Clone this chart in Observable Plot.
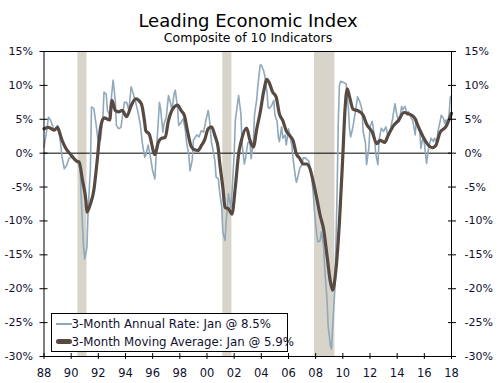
<!DOCTYPE html>
<html><head><meta charset="utf-8">
<script src="https://cdn.jsdelivr.net/npm/d3@7"></script>
<script src="https://cdn.jsdelivr.net/npm/@observablehq/plot@0.6"></script>
<style>
body{margin:0;background:#fff;font-family:"DejaVu Sans",Verdana,sans-serif;}
#wrap{position:relative;width:500px;height:383px;overflow:hidden;background:#fff;}
#title{position:absolute;left:0;top:12px;width:496px;text-align:center;font-size:18px;line-height:18px;color:#000;}
#subtitle{position:absolute;left:0;top:30px;width:496px;text-align:center;font-size:12.5px;line-height:15px;color:#000;}
#chart{position:absolute;left:0;top:45px;}
#legend{position:absolute;left:51px;top:313px;width:235px;height:37px;border:1.5px solid #000;background:#fff;color:#101030;font-size:11.8px;line-height:14px;}
#legend .sw{position:absolute;left:4px;width:16px;}
#legend .tx{position:absolute;left:19.5px;white-space:nowrap;}
</style></head>
<body><div id="wrap">
<div id="title">Leading Economic Index</div>
<div id="subtitle">Composite of 10 Indicators</div>
<div id="chart"></div>
<div id="legend">
  <div class="sw" style="top:8.5px;height:2px;background:#8fa8bb"></div>
  <div class="tx" style="top:2.7px">3-Month Annual Rate: Jan @ 8.5%</div>
  <div class="sw" style="top:25px;height:5px;border-radius:2.5px;background:#574a42"></div>
  <div class="tx" style="top:21px">3-Month Moving Average: Jan @ 5.9%</div>
</div>
</div>
<script>
// 3-Month Annual Rate (thin blue line)
const rateMonths = ["1988-01","1988-03","1988-05","1988-07","1988-10","1989-01","1989-03","1989-05","1989-07","1989-09","1989-11","1990-02","1990-05","1990-07","1990-09","1990-10","1990-12","1991-01","1991-03","1991-04","1991-06","1991-07","1991-09","1991-11","1992-01","1992-03","1992-05","1992-06","1992-08","1992-09","1992-11","1992-12","1993-02","1993-04","1993-05","1993-07","1993-09","1993-12","1994-02","1994-04","1994-06","1994-08","1994-10","1994-12","1995-02","1995-04","1995-06","1995-07","1995-09","1995-11","1996-01","1996-03","1996-04","1996-06","1996-07","1996-08","1996-10","1996-11","1997-01","1997-03","1997-05","1997-06","1997-08","1997-09","1997-11","1997-12","1998-02","1998-04","1998-06","1998-07","1998-09","1998-10","1998-12","1999-01","1999-04","1999-06","1999-08","1999-10","1999-12","2000-02","2000-03","2000-05","2000-08","2000-09","2000-11","2000-12","2001-02","2001-03","2001-05","2001-06","2001-08","2001-10","2001-11","2002-01","2002-02","2002-04","2002-05","2002-07","2002-08","2002-10","2002-11","2003-01","2003-03","2003-04","2003-06","2003-07","2003-09","2003-10","2003-12","2004-01","2004-03","2004-04","2004-06","2004-07","2004-08","2004-10","2004-12","2005-01","2005-03","2005-04","2005-05","2005-07","2005-08","2005-10","2005-11","2006-01","2006-02","2006-04","2006-05","2006-07","2006-08","2006-10","2006-11","2007-01","2007-02","2007-04","2007-07","2007-09","2007-11","2007-12","2008-02","2008-03","2008-05","2008-06","2008-08","2008-09","2008-11","2008-12","2009-02","2009-03","2009-04","2009-06","2009-07","2009-08","2009-09","2009-10","2009-11","2010-02","2010-04","2010-05","2010-06","2010-07","2010-08","2010-10","2010-12","2011-02","2011-04","2011-06","2011-07","2011-09","2011-10","2011-12","2012-01","2012-03","2012-05","2012-06","2012-08","2012-09","2012-11","2013-01","2013-03","2013-05","2013-07","2013-09","2013-11","2014-01","2014-03","2014-05","2014-06","2014-08","2014-10","2014-11","2015-01","2015-03","2015-05","2015-06","2015-09","2015-10","2015-12","2016-01","2016-03","2016-05","2016-07","2016-09","2016-10","2016-12","2017-01","2017-03","2017-04","2017-06","2017-07","2017-08","2017-10","2017-11","2017-12","2018-01"];
const rateValues = [0.9,2.9,5.3,4.8,3.3,4.1,2.4,-0.6,-2.3,-1.8,-0.8,-0.5,-1.0,-1.3,-2.5,-7.0,-13.9,-15.6,-13.9,-8.5,-2.4,6.8,6.6,4.3,1.4,2.0,5.1,9.0,8.7,6.3,5.6,7.3,10.8,7.8,4.1,3.6,3.8,7.5,7.5,6.3,9.8,8.7,7.5,6.1,4.3,1.4,-0.6,-0.3,1.2,-0.5,-2.6,-3.8,-0.6,4.8,7.5,6.6,3.1,4.3,5.3,8.5,7.3,6.3,8.8,9.3,6.6,4.1,4.5,5.1,3.3,1.6,-0.3,-2.6,-1.0,1.9,2.7,2.4,3.3,3.1,4.8,6.3,5.3,1.6,-1.1,-3.5,-3.8,-5.5,-8.0,-11.6,-12.9,-10.0,-6.0,-8.0,-6.0,-0.1,4.8,7.3,8.5,5.8,1.4,-1.6,-0.8,1.5,1.7,-0.8,1.7,5.6,8.0,10.0,13.0,13.0,12.2,11.5,9.0,6.8,6.6,7.0,7.8,5.6,4.7,2.4,1.7,3.9,2.2,2.7,1.2,3.6,2.7,1.2,-0.7,-3.3,-4.3,-3.0,-2.2,-1.7,-0.7,-0.7,-1.2,-2.7,-6.2,-8.6,-12.1,-13.1,-12.9,-11.6,-13.6,-17.1,-21.5,-25.4,-28.4,-28.9,-25.8,-20.0,-13.1,-5.3,4.6,10.0,10.6,10.4,10.2,8.3,6.5,3.5,2.4,3.9,6.0,8.3,7.6,6.4,3.2,1.5,-1.7,0.7,3.9,4.7,2.5,0.0,-1.7,2.0,3.7,3.2,3.9,2.5,3.4,5.1,7.3,5.4,4.7,6.9,6.4,6.9,5.6,6.1,5.4,4.7,2.7,5.1,3.2,0.7,2.5,1.5,-1.5,1.0,2.2,1.7,2.2,1.7,3.2,4.7,5.6,5.1,4.4,4.9,4.7,6.0,8.3,8.5];

// 3-Month Moving Average (thick brown line)
const avgMonths = ["1988-01","1988-05","1988-10","1989-01","1989-02","1989-05","1989-08","1990-01","1990-04","1990-06","1990-08","1990-11","1991-02","1991-03","1991-06","1991-09","1991-12","1992-03","1992-06","1992-11","1993-01","1993-04","1993-07","1993-10","1994-02","1994-06","1994-10","1995-03","1995-06","1995-07","1995-10","1996-03","1996-06","1996-09","1996-12","1997-03","1997-05","1997-08","1997-11","1998-02","1998-05","1998-08","1998-11","1999-02","1999-05","1999-08","1999-11","2000-02","2000-05","2000-08","2000-11","2000-12","2001-03","2001-05","2001-08","2001-11","2002-02","2002-05","2002-07","2002-12","2003-03","2003-06","2003-09","2003-12","2004-03","2004-06","2004-08","2004-11","2005-02","2005-05","2005-08","2005-11","2006-02","2006-05","2006-08","2006-11","2007-02","2007-05","2007-08","2007-11","2008-02","2008-05","2008-08","2008-11","2009-02","2009-04","2009-07","2009-10","2010-01","2010-03","2010-05","2010-07","2010-10","2011-03","2011-07","2011-10","2012-03","2012-07","2012-10","2013-02","2013-05","2013-10","2014-02","2014-07","2014-11","2015-04","2015-08","2015-12","2016-05","2016-08","2016-11","2017-03","2017-08","2017-10","2018-01"];
const avgValues = [3.6,3.8,3.4,3.8,3.4,1.9,0.8,-0.3,-0.9,-1.2,-1.3,-4.0,-7.0,-8.7,-7.5,-5.5,-1.1,3.8,5.2,4.9,7.8,6.3,6.1,6.3,5.4,7.0,8.0,7.3,4.5,3.3,2.8,-0.2,1.6,2.2,2.3,4.8,5.9,6.8,7.1,6.3,5.6,3.1,1.0,0.5,0.4,1.1,2.0,3.6,3.9,2.6,0.6,-1.1,-5.0,-8.0,-8.2,-9.0,-5.0,-0.1,1.6,3.7,1.9,0.9,3.6,6.0,9.0,10.9,10.4,9.0,8.3,5.8,4.8,3.3,2.6,1.9,-0.1,-0.8,-1.6,-1.6,-2.3,-4.3,-6.7,-9.2,-11.2,-15.1,-19.0,-20.2,-17.1,-10.2,-0.3,6.5,9.5,8.3,6.5,6.2,5.6,4.3,3.1,1.4,1.9,1.6,2.6,4.1,4.8,6.0,5.8,5.3,3.8,2.4,1.1,0.8,1.1,3.1,3.9,4.6,5.9];

// Recessions (shaded)
const recessionStarts = ["1990-07","2001-03","2007-12"];
const recessionEnds = ["1991-03","2001-11","2009-06"];

// Axis ticks
const yTicks = [15,10,5,0,-5,-10,-15,-20,-25,-30];
const xTickYears = [1988,1990,1992,1994,1996,1998,2000,2002,2004,2006,2008,2010,2012,2014,2016,2018];

const parse = d3.utcParse("%Y-%m");
const rate = rateMonths.map((m, i) => ({date: parse(m), value: rateValues[i]}));
const avg = avgMonths.map((m, i) => ({date: parse(m), value: avgValues[i]}));
const recessions = recessionStarts.map((s, i) => ({start: parse(s), end: parse(recessionEnds[i])}));
const xTicks = xTickYears.map(y => new Date(Date.UTC(y, 0, 1)));

const pct = d => (d < 0 ? "-" + Math.abs(d) : String(d)) + "%";
const yr = d => String(d.getUTCFullYear()).slice(2);
const txt = "#101030";

const chart = Plot.plot({
  width: 500,
  height: 338,
  marginLeft: 43.5,
  marginRight: 49,
  marginTop: 6,
  marginBottom: 27,
  style: {fontFamily: "'DejaVu Sans', Verdana, sans-serif", fontSize: "11px", background: "transparent", overflow: "visible"},
  x: {type: "utc", domain: [parse("1988-01"), parse("2018-01")], label: null},
  y: {domain: [-30, 15], label: null},
  marks: [
    Plot.rect(recessions, {x1: "start", x2: "end", y1: -30, y2: 15, fill: "#d8d4c9"}),
    Plot.ruleY([0], {stroke: "#000", strokeWidth: 1}),
    Plot.line(rate, {x: "date", y: "value", stroke: "#8fa8bb", strokeWidth: 1.6}),
    Plot.line(avg, {x: "date", y: "value", stroke: "#574a42", strokeWidth: 3.2, curve: "monotone-x"}),
    Plot.frame({stroke: "#000", strokeWidth: 1}),
    Plot.axisY(yTicks, {anchor: "left", label: null, tickSize: 8, dx: 4, tickFormat: () => "", stroke: "#000"}),
    Plot.axisY(yTicks, {anchor: "left", label: null, tickSize: 0, tickPadding: 11, tickFormat: pct, fill: txt}),
    Plot.axisY(yTicks, {anchor: "right", label: null, tickSize: 8, dx: -4, tickFormat: () => "", stroke: "#000"}),
    Plot.axisY(yTicks, {anchor: "right", label: null, tickSize: 0, tickPadding: 13, tickFormat: pct, fill: txt}),
    Plot.axisX(xTicks, {anchor: "bottom", label: null, tickSize: 6, dy: -3, tickFormat: () => "", stroke: "#000"}),
    Plot.axisX(xTicks, {anchor: "bottom", label: null, tickSize: 0, tickPadding: 12, tickFormat: yr, fill: txt, fontSize: 11.5})
  ]
});
document.getElementById("chart").appendChild(chart);
</script>
</body></html>
